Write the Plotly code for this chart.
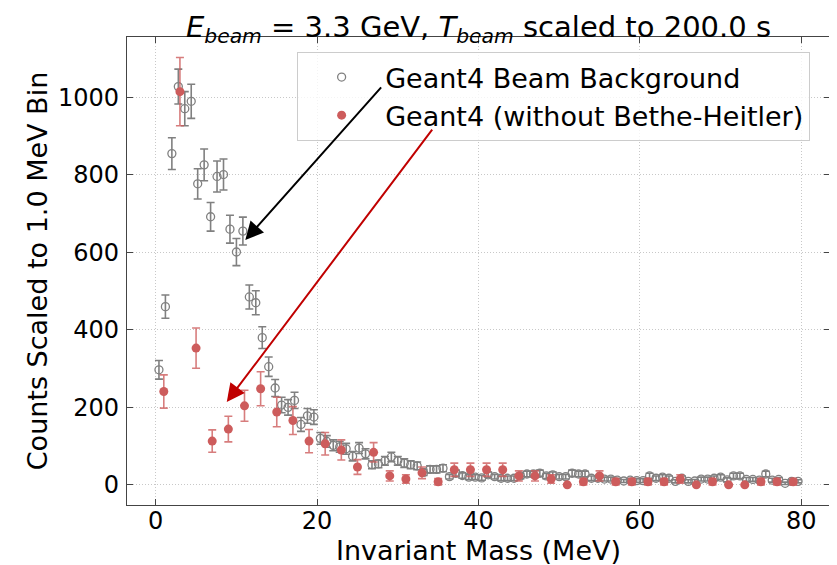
import plotly.graph_objects as go

# ---- data ----
grey_x = [round(0.4 + 0.8 * i, 1) for i in range(100)]
grey_y = [297, 460, 855, 1028, 971, 990, 777, 826, 692, 796,
          801, 660, 601, 655, 485, 470, 380, 305, 250, 206,
          200, 218, 156, 178, 175, 120, 112, 102, 98, 93,
          74, 95, 80, 52, 54, 62, 72, 62, 56, 52,
          49, 32, 40, 40, 43, 21, 30, 24, 20, 20,
          18, 26, 21, 17, 17, 17, 23, 28, 28, 30,
          23, 26, 21, 21, 30, 28, 28, 17, 17, 15,
          15, 12, 10, 12, 11, 11, 23, 17, 20, 17,
          9, 17, 9, 10, 15, 15, 17, 20, 13, 23,
          23, 14, 14, 12, 28, 12, 14, 4, 9, 9]
grey_err = [24, 30, 41, 45, 44, 44, 39, 41, 37, 40,
            40, 36, 35, 36, 31, 31, 28, 25, 22, 20,
            20, 21, 18, 19, 19, 15, 15, 14, 14, 14,
            12, 14, 13, 10, 10, 11, 12, 11, 11, 10,
            10, 8, 9, 9, 9, 6, 8, 7, 6, 6,
            6, 7, 6, 6, 6, 6, 7, 7, 7, 8,
            7, 7, 6, 6, 8, 7, 7, 6, 6, 5,
            5, 5, 4, 5, 5, 5, 7, 6, 6, 6,
            4, 6, 4, 4, 5, 5, 6, 6, 5, 7,
            7, 5, 5, 5, 7, 5, 5, 3, 4, 4]

red_x = list(range(1, 80, 2))
red_y = [241, 1015, 353, 113, 144, 204, 248, 188, 166, 113,
         106, 90, 46, 84, 23, 15, 31, 8, 39, 39,
         39, 39, 23, 23, 15, 0, 8, 23, 8, 8,
         8, 8, 15, 0, 8, 0, 0, 8, 8, 8]
red_err = [43, 88, 52, 29, 33, 40, 44, 38, 36, 30,
           29, 26, 19, 25, 13, 11, 15, 8, 17, 17,
           17, 17, 13, 13, 11, 0, 8, 13, 8, 8,
           8, 8, 11, 0, 8, 0, 0, 8, 8, 8]

x_ticks = [0, 20, 40, 60, 80]
y_ticks = [0, 200, 400, 600, 800, 1000]

FONT = "DejaVu Sans"
GREY = "#808080"
RED = "#cd5c5c"

fig = go.Figure()
fig.add_trace(go.Scatter(
    x=grey_x, y=grey_y, mode="markers", name="Geant4 Beam Background",
    marker=dict(symbol="circle-open", size=8, color=GREY, line=dict(width=1.3, color=GREY)),
    error_y=dict(type="data", array=grey_err, color=GREY, thickness=1.6, width=4),
))
fig.add_trace(go.Scatter(
    x=red_x, y=red_y, mode="markers", name="Geant4 (without Bethe-Heitler)",
    marker=dict(symbol="circle", size=9, color=RED),
    error_y=dict(type="data", array=red_err, color="rgba(205,92,92,0.8)", thickness=1.6, width=4),
))

# arrows
fig.add_annotation(x=11.1, y=632, ax=28.1, ay=1030, xref="x", yref="y", axref="x", ayref="y",
                   text="", showarrow=True, arrowhead=2, arrowsize=1.8, arrowwidth=2,
                   arrowcolor="black")
fig.add_annotation(x=8.8, y=214, ax=34.4, ay=921, xref="x", yref="y", axref="x", ayref="y",
                   text="", showarrow=True, arrowhead=2, arrowsize=1.8, arrowwidth=2,
                   arrowcolor="#c00000")

axis_common = dict(
    showline=True, linecolor="#444", linewidth=1.2, mirror="allticks",
    ticks="inside", ticklen=6, tickwidth=1, tickcolor="#444",
    showgrid=True, gridcolor="#c8c8c8", griddash="1px,2px", gridwidth=1,
    zeroline=False, automargin=False,
    tickfont=dict(family=FONT, size=24, color="black"),
)
fig.update_xaxes(range=[-3.56, 83.56], tickvals=x_ticks, ticklabelstandoff=-6,
                 title=dict(text="Invariant Mass (MeV)", font=dict(family=FONT, size=27, color="black"), standoff=2),
                 **axis_common)
fig.update_yaxes(range=[-52, 1156], tickvals=y_ticks, ticklabelstandoff=2,
                 title=dict(text="Counts Scaled to 1.0 MeV Bin", font=dict(family=FONT, size=27, color="black"), standoff=2),
                 **axis_common)

fig.update_layout(
    width=837, height=565,
    margin=dict(l=119, r=15, t=29, b=68, autoexpand=False),
    paper_bgcolor="white", plot_bgcolor="white",
    title=dict(text="<i>E</i><sub><i>beam</i></sub> = 3.3 GeV, <i>T</i><sub><i>beam</i></sub> scaled to 200.0 s",
               xref="paper", x=0.5, xanchor="center", y=0.985, yanchor="top",
               font=dict(family=FONT, size=29, color="black")),
    legend=dict(x=0.242, y=0.968, xanchor="left", yanchor="top",
                bgcolor="rgba(255,255,255,0.8)", bordercolor="#cccccc", borderwidth=1,
                font=dict(family=FONT, size=27, color="black"), itemwidth=77),
    showlegend=True,
)

fig.write_html("out.html")
